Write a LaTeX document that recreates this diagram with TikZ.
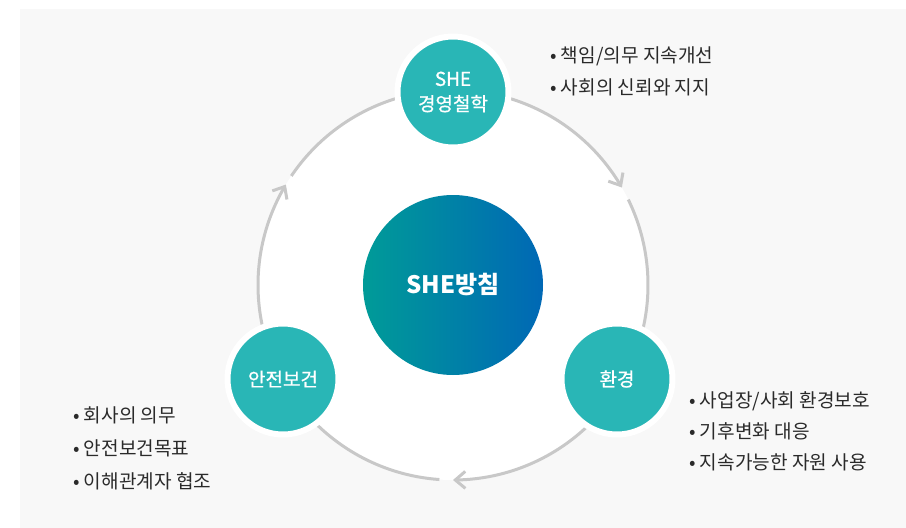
\documentclass[tikz,border=0pt]{standalone}
\usepackage{fontspec}
\setmainfont{Noto Sans CJK KR}
\newfontfamily\krmed{Noto Sans CJK KR}[FakeBold=0.8]
\usetikzlibrary{arrows.meta}
\definecolor{bggray}{HTML}{F8F8F8}
\definecolor{ringgray}{HTML}{C8C8C8}
\definecolor{tealnode}{HTML}{29B6B6}
\definecolor{gradL}{HTML}{009B98}
\definecolor{gradR}{HTML}{0068B5}
\definecolor{txt}{HTML}{2A2A2A}
\begin{document}
\begin{tikzpicture}[x=1pt,y=-1pt,
  ring/.style={draw=ringgray, line width=3pt},
  ringarrow/.style={ring, -{Straight Barb[length=10pt,width=17pt]}},
  topic/.style={circle, fill=tealnode, draw=white, line width=6pt, minimum size=111pt, inner sep=0pt, text=white, font=\krmed\fontsize{19}{25}\selectfont, align=center},
  bullettext/.style={anchor=base west, inner sep=0pt, text=txt, font=\fontsize{19.1}{22}\selectfont}
]
\useasboundingbox (0,0) rectangle (906,528);
\fill[bggray] (20,9) rectangle (906,528);
\fill[white] (453,285) circle[radius=195pt];
% ring arcs (clockwise)
\draw[ringarrow] plot[domain=90:30, samples=60] ({453+195*cos(\x)}, {285-195*sin(\x)});
\draw[ring] plot[domain=26:-30, samples=60] ({453+195*cos(\x)}, {285-195*sin(\x)});
\draw[ringarrow] plot[domain=-30:-90, samples=60] ({453+195*cos(\x)}, {285-195*sin(\x)});
\draw[ring] plot[domain=-94:-150, samples=60] ({453+195*cos(\x)}, {285-195*sin(\x)});
\draw[ringarrow] plot[domain=-150:-211, samples=60] ({453+195*cos(\x)}, {285-195*sin(\x)});
\draw[ring] plot[domain=-214:-270, samples=60] ({453+195*cos(\x)}, {285-195*sin(\x)});
% centre
\node[circle, minimum size=180pt, inner sep=0pt, left color=gradL, right color=gradR, text=white, font=\bfseries\fontsize{24}{28}\selectfont] (c) at (453,285) {SHE방침};
% topics
\node[topic] (t) at (453,92) {SHE\\경영철학};
\node[topic] (bl) at (283,379) {안전보건};
\node[topic] (br) at (617,379) {환경};
% bullet lists
\node[bullettext] (tr1) at (550,62) {• 책임/의무 지속개선};
\node[bullettext] (tr2) at (550,94) {• 사회의 신뢰와 지지};
\node[bullettext] (bl1) at (73,422) {• 회사의 의무};
\node[bullettext] (bl2) at (73,455) {• 안전보건목표};
\node[bullettext] (bl3) at (73,488) {• 이해관계자 협조};
\node[bullettext] (br1) at (689,407) {• 사업장/사회 환경보호};
\node[bullettext] (br2) at (689,438) {• 기후변화 대응};
\node[bullettext] (br3) at (689,469) {• 지속가능한 자원 사용};
\end{tikzpicture}
\end{document}
